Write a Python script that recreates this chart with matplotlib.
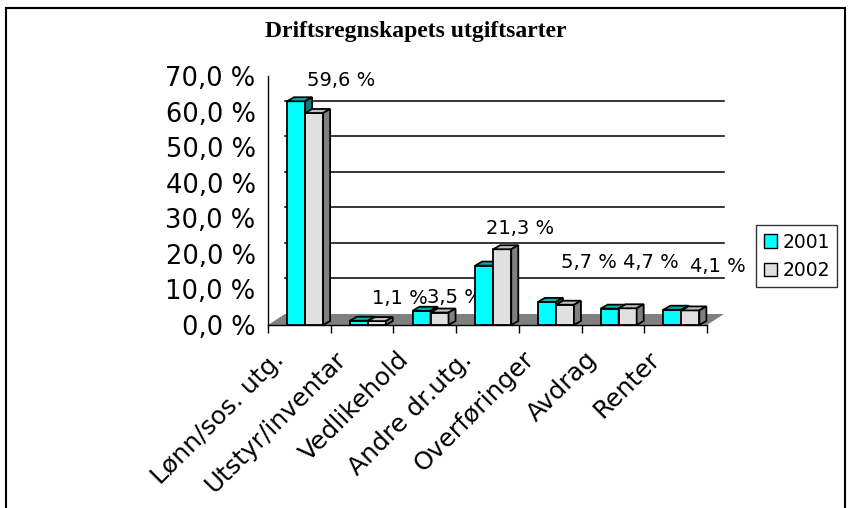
import matplotlib
matplotlib.use("Agg")
import matplotlib.pyplot as plt
from matplotlib.patches import Polygon, Rectangle, Patch

# data
kategorier = ["Lønn/sos. utg.", "Utstyr/inventar", "Vedlikehold", "Andre dr.utg.",
              "Overføringer", "Avdrag", "Renter"]
aar = ["2001", "2002"]
andel_2001 = [62.9, 1.2, 4.0, 16.7, 6.5, 4.6, 4.3]
andel_2002 = [59.6, 1.1, 3.5, 21.3, 5.7, 4.7, 4.1]
y_ticks = [0, 10, 20, 30, 40, 50, 60, 70]

# label placement (pixels, relative to top of 2002 bar)
label_off = [(27, 32), (23, 23), (15, 15), (18, 21), (24, 42), (23, 46), (27, 44)]

# colours: front, top, side
farger = [("#00FFFF", "#00B4B4", "#008080"),
          ("#E0E0E0", "#C0C0C0", "#808080")]

W, H = 850, 508
fig = plt.figure(figsize=(8.5, 5.08), dpi=100)

# axes in pixel terms
x0, x1 = 268, 730
y0, y1 = 325, 60
ax = fig.add_axes([x0 / W, (H - y0) / H, (x1 - x0) / W, (y0 - y1) / H])
px_x = 62.71           # px per category
px_y = 249 / 70.0      # px per percent
ax.set_xlim(0, (x1 - x0) / px_x)
ax.set_ylim(0, (y0 - y1) / px_y)
for s in ax.spines.values():
    s.set_visible(False)

# depth of the 3D box and of each bar
DX, DY = 17 / px_x, 11 / px_y
bdx, bdy = 7 / px_x, 4 / px_y
n = len(kategorier)

# floor
ax.add_patch(Polygon([(0, 0), (n, 0), (n + DX, DY), (DX, DY)], closed=True,
                     facecolor="#808080", edgecolor="none", zorder=1))
# back wall gridlines
for v in y_ticks[1:-1]:
    ax.plot([DX, n + DX], [v + DY, v + DY], color="black", lw=1.1, zorder=1)

# axis lines
ax.plot([0, 0], [0, 70], color="black", lw=1.0, clip_on=False, zorder=2)
ax.plot([0, n], [0, 0], color="black", lw=1.0, clip_on=False, zorder=2)
ax.set_xticks(range(n + 1))
ax.set_xticklabels([])
ax.tick_params(axis="x", length=6, width=1.0, direction="out")
ax.set_yticks(y_ticks)
ax.set_yticklabels([f"{v:.1f} %".replace(".", ",") for v in y_ticks], fontsize=18.5)
ax.tick_params(axis="y", length=0, pad=9)

bw = 0.287
start = 0.305


def bar3d(x, h, cols, z):
    front, top, side = cols
    ax.add_patch(Rectangle((x, 0), bw, h, facecolor=front, edgecolor="black",
                           lw=1.3, zorder=z))
    ax.add_patch(Polygon([(x, h), (x + bdx, h + bdy), (x + bw + bdx, h + bdy), (x + bw, h)],
                         closed=True, facecolor=top, edgecolor="black", lw=1.3, zorder=z))
    ax.add_patch(Polygon([(x + bw, 0), (x + bw + bdx, bdy), (x + bw + bdx, h + bdy), (x + bw, h)],
                         closed=True, facecolor=side, edgecolor="black", lw=1.3, zorder=z))


for i in range(n):
    bar3d(i + start, andel_2001[i], farger[0], 3 + 2 * i)
    bar3d(i + start + bw, andel_2002[i], farger[1], 4 + 2 * i)
    # data labels for 2002 (drawn behind the next group's bars)
    xc = i + start + 1.5 * bw
    ax.annotate(f"{andel_2002[i]:.1f} %".replace(".", ","), (xc, andel_2002[i]),
                xytext=label_off[i], textcoords="offset pixels",
                ha="center", va="center", fontsize=14, zorder=4.5 + 2 * i)
    # category labels
    ax.annotate(kategorier[i], (i + 0.5, 0), xytext=(-28, -22), textcoords="offset pixels",
                ha="right", va="top", rotation=45, rotation_mode="anchor",
                fontsize=18, annotation_clip=False)

fig.text(416 / W, 1 - 37 / H, "Driftsregnskapets utgiftsarter", ha="center", va="baseline",
         fontsize=17, fontweight="bold", family="Liberation Serif")

handles = [Patch(facecolor=farger[k][0], edgecolor="black", label=aar[k]) for k in range(2)]
leg = fig.legend(handles=handles, loc="upper left", bbox_to_anchor=(756 / W, 1 - 225 / H),
                 fontsize=13.5, frameon=True, fancybox=False, handlelength=0.7,
                 handleheight=0.7, handletextpad=0.3, borderpad=0.4, labelspacing=0.5,
                 borderaxespad=0)
leg.get_frame().set_edgecolor("black")
leg.get_frame().set_linewidth(1.0)

# outer border
fig.patches.append(Rectangle((6 / W, -0.01), (845 - 6) / W, 1.01 - 8 / H, fill=False,
                             edgecolor="black", lw=1.5, transform=fig.transFigure))

fig.savefig("out.png", dpi=100)
